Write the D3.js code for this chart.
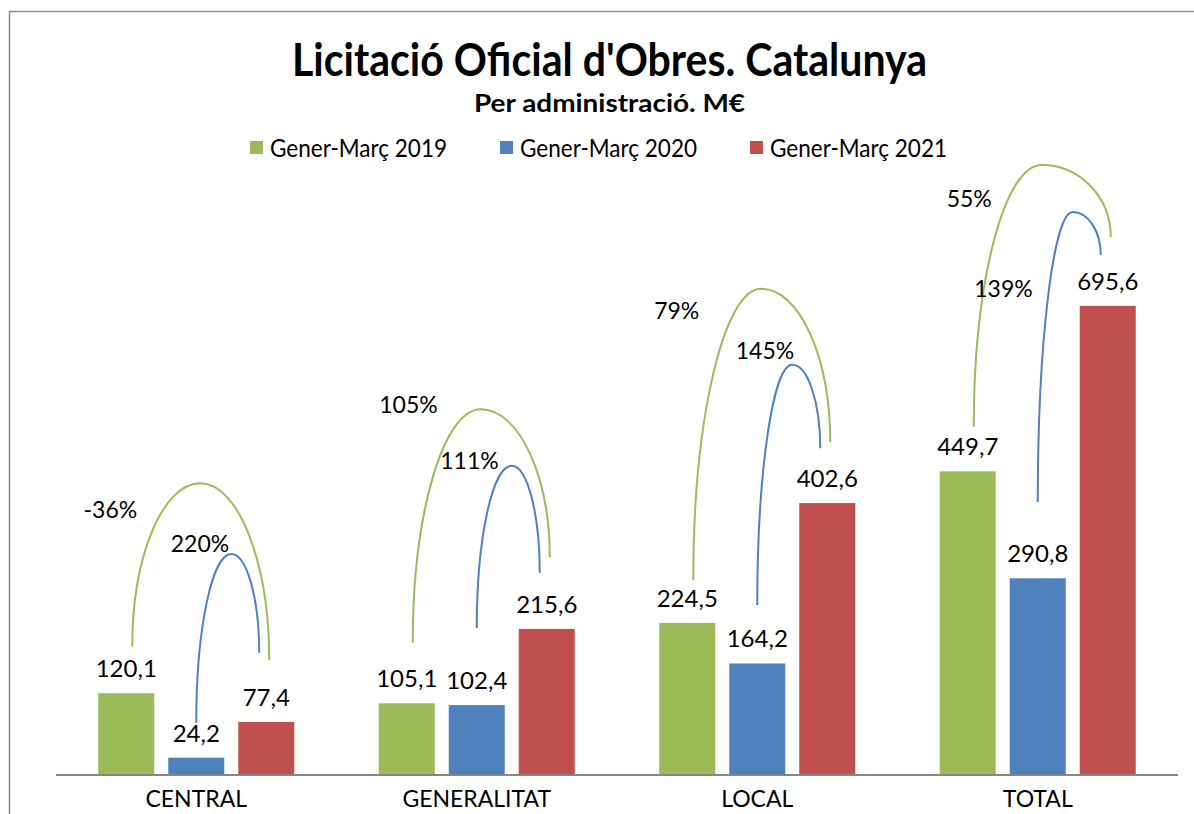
<!DOCTYPE html>
<html>
<head>
<meta charset="utf-8">
<script src="https://cdn.jsdelivr.net/npm/d3@7"></script>
<style>
  body { margin: 0; background: #fff; }
  svg { display: block; font-family: Lato, "Open Sans", sans-serif; }
</style>
</head>
<body>
<div id="chart"></div>
<script>
// data (M€)
const categories = ['CENTRAL', 'GENERALITAT', 'LOCAL', 'TOTAL'];
const seriesNames = ['Gener-Març 2019', 'Gener-Març 2020', 'Gener-Març 2021'];
const values2019 = [120.1, 105.1, 224.5, 449.7];
const values2020 = [24.2, 102.4, 164.2, 290.8];
const values2021 = [77.4, 215.6, 402.6, 695.6];
const colors = ['#9BBB59', '#4F81BD', '#C0504D'];

// hand-drawn arcs, heights given on the value axis (M€)
const arcGreenStart = [189, 195, 288, 516];
const arcGreenPeak  = [432, 542, 721, 905];
const arcGreenEnd   = [169, 322, 493, 798];
const arcBlueStart  = [76, 217, 251, 404];
const arcBluePeak   = [327, 458, 608, 835];
const arcBlueEnd    = [180, 299, 484, 771];
// where the % labels sit (value axis) and their x nudge
const pctGreenAt = [380, 536, 676, 842];
const pctBlueAt  = [330, 453, 617, 709];
const pctGreenDx = [11, 31, 12, 24];
const pctBlueDx  = [33, 22, 37, -5];

const W = 1194, H = 814;
const series = [values2019, values2020, values2021];

const loc = d3.formatLocale({ decimal: ',', thousands: '.', grouping: [3], currency: ['', '€'], minus: '-' });
const fmtVal = loc.format('.1f');
const fmtPct = loc.format('.0%');

const svg = d3.select('#chart').append('svg')
  .attr('width', W)
  .attr('height', H);

// outer frame
svg.append('rect')
  .attr('x', 9.5).attr('y', 11.5)
  .attr('width', W + 20).attr('height', H + 20)
  .attr('fill', 'none')
  .attr('stroke', '#8c8c8c')
  .attr('stroke-width', 1.5);

// title + subtitle
svg.append('text')
  .attr('x', 292).attr('y', 76)
  .attr('font-size', 45).attr('font-weight', 700)
  .attr('textLength', 635).attr('lengthAdjust', 'spacingAndGlyphs')
  .text("Licitació Oficial d'Obres. Catalunya");

svg.append('text')
  .attr('x', 474).attr('y', 112)
  .attr('font-size', 25).attr('font-weight', 700)
  .attr('textLength', 271).attr('lengthAdjust', 'spacingAndGlyphs')
  .text('Per administració. M€');

// legend
const legend = svg.append('g');
seriesNames.forEach((name, i) => {
  const g = legend.append('g').attr('transform', `translate(${250 + i * 250},0)`);
  g.append('rect')
    .attr('x', 0).attr('y', 141)
    .attr('width', 13).attr('height', 13)
    .attr('fill', colors[i]);
  g.append('text')
    .attr('x', 20).attr('y', 157)
    .attr('font-size', 25)
    .attr('textLength', 177).attr('lengthAdjust', 'spacingAndGlyphs')
    .text(name);
});

// scales
const x0 = d3.scaleBand()
  .domain(categories)
  .range([56, 1178]);

const x1 = d3.scaleBand()
  .domain(d3.range(series.length))
  .range([0, x0.bandwidth()])
  .paddingInner(0.2)
  .paddingOuter(0.6036);

const y = d3.scaleLinear()
  .domain([0, 1000])
  .range([774, 101]);

const cx = (c, s) => x0(c) + x1(s) + x1.bandwidth() / 2;

// bars
const groups = svg.append('g').selectAll('g')
  .data(categories)
  .enter().append('g');

groups.selectAll('rect')
  .data((c, ci) => series.map((vals, si) => ({ c, si, v: vals[ci] })))
  .enter().append('rect')
    .attr('x', d => x0(d.c) + x1(d.si))
    .attr('y', d => y(d.v))
    .attr('width', x1.bandwidth())
    .attr('height', d => y(0) - y(d.v))
    .attr('fill', d => colors[d.si]);

groups.selectAll('text.val')
  .data((c, ci) => series.map((vals, si) => ({ c, si, v: vals[ci] })))
  .enter().append('text')
    .attr('class', 'val')
    .attr('x', d => cx(d.c, d.si))
    .attr('y', d => y(d.v) - 16)
    .attr('text-anchor', 'middle')
    .attr('font-size', 24)
    .text(d => fmtVal(d.v));

// baseline
svg.append('line')
  .attr('x1', x0.range()[0]).attr('x2', x0.range()[1])
  .attr('y1', y(0) + 1).attr('y2', y(0) + 1)
  .attr('stroke', '#868686')
  .attr('stroke-width', 2);

// category labels
svg.append('g').selectAll('text')
  .data(categories)
  .enter().append('text')
    .attr('x', c => x0(c) + x0.bandwidth() / 2)
    .attr('y', 807)
    .attr('text-anchor', 'middle')
    .attr('font-size', 23)
    .text(c => c);

// arcs: quarter-ellipse up to the peak, quarter-ellipse down to the end
function arcPath(xs, ys, xa, ya, xe, ye) {
  const k = 0.5523;
  return `M${xs},${ys}` +
    `C${xs},${ys - k * (ys - ya)} ${xa - k * (xa - xs)},${ya} ${xa},${ya}` +
    `C${xa + k * (xe - xa)},${ya} ${xe},${ye - k * (ye - ya)} ${xe},${ye}`;
}

const arcs = svg.append('g').attr('fill', 'none').attr('stroke-width', 2);

categories.forEach((c, i) => {
  arcs.append('path')
    .attr('stroke', colors[0])
    .attr('d', arcPath(
      cx(c, 0) + 6, y(arcGreenStart[i]),
      cx(c, 1) + 4, y(arcGreenPeak[i]),
      cx(c, 2) + 3, y(arcGreenEnd[i])));

  arcs.append('path')
    .attr('stroke', colors[1])
    .attr('d', arcPath(
      cx(c, 1), y(arcBlueStart[i]),
      (cx(c, 1) + cx(c, 2)) / 2, y(arcBluePeak[i]),
      cx(c, 2) - 7, y(arcBlueEnd[i])));

  svg.append('text')
    .attr('x', cx(c, 0) + pctGreenDx[i])
    .attr('y', y(pctGreenAt[i]))
    .attr('text-anchor', 'end')
    .attr('font-size', 23)
    .text(fmtPct(values2021[i] / values2019[i] - 1));

  svg.append('text')
    .attr('x', cx(c, 1) + pctBlueDx[i])
    .attr('y', y(pctBlueAt[i]))
    .attr('text-anchor', 'end')
    .attr('font-size', 23)
    .text(fmtPct(values2021[i] / values2020[i] - 1));
});
</script>
</body>
</html>
